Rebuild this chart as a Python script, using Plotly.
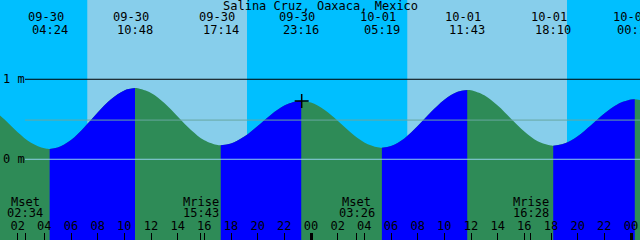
import plotly.graph_objects as go

# ---------------- data (hours since 09-30 00:00 local) ----------------
title_text = "Salina Cruz, Oaxaca, Mexico"

curve_hours = [0, 1, 2, 3, 4, 4.4, 5, 6, 7, 8, 9, 10, 10.8, 11, 12, 13, 14, 15, 16, 17,
               17.233, 18, 19, 20, 21, 22, 23, 23.267, 24, 25, 26, 27, 28, 29, 29.317,
               30, 31, 32, 33, 34, 35, 35.717, 36, 37, 38, 39, 40, 41, 42, 42.167,
               43, 44, 45, 46, 47, 48, 48.283, 49]
curve_m = [0.646, 0.499, 0.339, 0.207, 0.137, 0.13, 0.146, 0.241, 0.400, 0.584, 0.751,
           0.861, 0.89, 0.888, 0.830, 0.703, 0.535, 0.367, 0.238, 0.177, 0.175, 0.197,
           0.284, 0.417, 0.558, 0.672, 0.727, 0.73, 0.709, 0.619, 0.482, 0.332, 0.211,
           0.149, 0.145, 0.165, 0.261, 0.415, 0.590, 0.745, 0.844, 0.866, 0.863, 0.800,
           0.672, 0.508, 0.347, 0.225, 0.171, 0.17, 0.196, 0.289, 0.426, 0.572, 0.689,
           0.747, 0.75, 0.730]

event_hours = [4.4, 10.8, 17.233, 23.267, 29.317, 35.717, 42.167, 48.283]
event_dates = ["09-30", "09-30", "09-30", "09-30", "10-01", "10-01", "10-01", "10-02"]
event_times = ["04:24", "10:48", "17:14", "23:16", "05:19", "11:43", "18:10", "00:17"]

sunrise_hours = [7.22, 31.22]
sunset_hours = [19.2, 43.2]

moon_hours = [2.567, 15.717, 27.433, 40.467]
moon_names = ["Mset", "Mrise", "Mset", "Mrise"]
moon_times = ["02:34", "15:43", "03:26", "16:28"]

hour_ticks = [2, 4, 6, 8, 10, 12, 14, 16, 18, 20, 22, 24,
              26, 28, 30, 32, 34, 36, 38, 40, 42, 44, 46, 48]
hour_labels = ["%02d" % (h % 24) for h in hour_ticks]
midnight_ticks = [24, 48]

level_lines = [1.0, 0.0]
level_labels = ["1 m", "0 m"]
mean_level = 0.49

now_hour = [23.3]
now_m = [0.73]

x_range = [0.675, 48.675]
y_range = [-1.009, 1.991]

# ---------------- style ----------------
NIGHT = "#00BFFF"
DAY = "#87CEEB"
RISE = "#0000FF"
FALL = "#2E8B57"
FONT = dict(family="DejaVu Sans Mono", size=12, color="black")

fig = go.Figure()
floor = y_range[0] - 0.2

# full falling-colour underlay, then rising segments on top (avoids seams)
fig.add_trace(go.Scatter(x=curve_hours, y=[floor] * len(curve_hours), mode="lines",
                         line=dict(width=0), hoverinfo="skip", showlegend=False))
fig.add_trace(go.Scatter(x=curve_hours, y=curve_m, mode="lines", fill="tonexty",
                         fillcolor=FALL, line=dict(width=0, color=FALL, shape="spline"),
                         hoverinfo="skip", showlegend=False))

breaks = [0] + [curve_hours.index(h) for h in event_hours] + [len(curve_hours) - 1]
for a, b in zip(breaks[:-1], breaks[1:]):
    xs = curve_hours[a:b + 1]
    ys = curve_m[a:b + 1]
    if ys[-1] <= ys[0]:
        continue
    fig.add_trace(go.Scatter(x=xs, y=[floor] * len(xs), mode="lines",
                             line=dict(width=0), hoverinfo="skip", showlegend=False))
    fig.add_trace(go.Scatter(x=xs, y=ys, mode="lines", fill="tonexty",
                             fillcolor=RISE, line=dict(width=0, color=RISE, shape="spline"),
                             hoverinfo="skip", showlegend=False))

# current-time cross
fig.add_trace(go.Scatter(x=now_hour, y=now_m, mode="markers",
                         marker=dict(symbol="cross-thin", size=10,
                                     line=dict(width=1.5, color="black")),
                         hoverinfo="skip", showlegend=False))

# day shading
for s, e in zip(sunrise_hours, sunset_hours):
    fig.add_shape(type="rect", xref="x", yref="paper", x0=s, x1=e, y0=0, y1=1,
                  fillcolor=DAY, line=dict(width=0), layer="below")

# level lines
lx0 = 25 / 640
fig.add_shape(type="line", xref="paper", yref="y", x0=lx0, x1=1, y0=level_lines[0],
              y1=level_lines[0], line=dict(color="black", width=1))
fig.add_shape(type="line", xref="paper", yref="y", x0=lx0, x1=1, y0=mean_level,
              y1=mean_level, line=dict(color="#68A8A0", width=1))
fig.add_shape(type="line", xref="paper", yref="y", x0=lx0, x1=1, y0=level_lines[1],
              y1=level_lines[1], line=dict(color="#90D0E8", width=1))

for v, t in zip(level_lines, level_labels):
    fig.add_annotation(x=0, xref="paper", y=v, yref="y", text=t, showarrow=False,
                       xanchor="left", xshift=1, yanchor="middle", font=FONT)

# title
fig.add_annotation(x=0.5, xref="paper", y=1 - 6 / 240, yref="paper", text=title_text,
                   showarrow=False, xanchor="center", yanchor="middle", font=FONT)

# tide event labels
for h, d, t in zip(event_hours, event_dates, event_times):
    fig.add_annotation(x=h, xref="x", y=1 - 17 / 240, yref="paper", text=d,
                       showarrow=False, xanchor="center", yanchor="middle",
                       xshift=-4, font=FONT)
    fig.add_annotation(x=h, xref="x", y=1 - 29.5 / 240, yref="paper", text=t,
                       showarrow=False, xanchor="center", yanchor="middle", font=FONT)

# moon labels
for h, n, t in zip(moon_hours, moon_names, moon_times):
    fig.add_annotation(x=h, xref="x", y=1 - 202 / 240, yref="paper", text=n,
                       showarrow=False, xanchor="center", yanchor="middle", font=FONT)
    fig.add_annotation(x=h, xref="x", y=1 - 213 / 240, yref="paper", text=t,
                       showarrow=False, xanchor="center", yanchor="middle", font=FONT)

axis_common = dict(range=x_range, showgrid=False, zeroline=False, showline=False,
                   ticks="inside", ticklen=7, tickcolor="black", fixedrange=True)

fig.update_layout(
    width=640, height=240, margin=dict(l=0, r=0, t=0, b=0),
    paper_bgcolor=NIGHT, plot_bgcolor=NIGHT,
    font=FONT, showlegend=False,
    xaxis=dict(**axis_common, tickvals=hour_ticks, ticktext=hour_labels,
               tickwidth=1, ticklabelposition="inside", tickfont=FONT),
    xaxis2=dict(**axis_common, overlaying="x", side="bottom", anchor="y",
                tickvals=moon_hours, ticktext=[""] * len(moon_hours), tickwidth=1),
    xaxis3=dict(**axis_common, overlaying="x", side="bottom", anchor="y",
                tickvals=midnight_ticks, ticktext=[""] * len(midnight_ticks), tickwidth=3),
    yaxis=dict(range=y_range, visible=False, showgrid=False, zeroline=False,
               fixedrange=True),
)

# dummy traces to activate overlay axes
fig.add_trace(go.Scatter(x=[None], y=[None], xaxis="x2", showlegend=False, hoverinfo="skip"))
fig.add_trace(go.Scatter(x=[None], y=[None], xaxis="x3", showlegend=False, hoverinfo="skip"))

fig.write_html("out.html")
